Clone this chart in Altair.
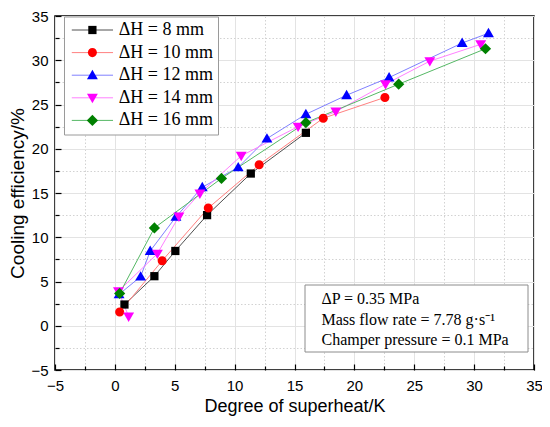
import altair as alt
import pandas as pd

series_names = ["ΔH = 8 mm", "ΔH = 10 mm", "ΔH = 12 mm", "ΔH = 14 mm", "ΔH = 16 mm"]

x_8mm = [0.8, 3.3, 5.05, 7.7, 11.35, 15.95]
y_8mm = [2.4, 5.6, 8.45, 12.5, 17.2, 21.8]
x_10mm = [0.4, 3.95, 7.8, 12.05, 17.4, 22.55]
y_10mm = [1.55, 7.35, 13.3, 18.2, 23.45, 25.8]
x_12mm = [0.35, 2.15, 2.95, 5.1, 7.3, 10.3, 12.7, 15.95, 19.35, 22.9, 29.0, 31.2]
y_12mm = [3.55, 5.55, 8.45, 12.3, 15.65, 17.9, 21.15, 23.9, 26.05, 28.05, 31.95, 33.05]
x_14mm = [1.15, 0.3, 3.55, 5.35, 7.1, 10.55, 15.3, 18.45, 22.6, 26.3, 30.55]
y_14mm = [1.05, 3.9, 8.15, 12.35, 14.95, 19.2, 22.5, 24.2, 27.3, 29.9, 31.8]
x_16mm = [0.4, 3.3, 8.9, 15.95, 23.7, 30.95]
y_16mm = [3.65, 11.05, 16.65, 22.95, 27.3, 31.3]

x_ticks = [-5, -2.5, 0, 2.5, 5, 7.5, 10, 12.5, 15, 17.5, 20, 22.5, 25, 27.5, 30, 32.5, 35]
y_ticks = [-5, -2.5, 0, 2.5, 5, 7.5, 10, 12.5, 15, 17.5, 20, 22.5, 25, 27.5, 30, 32.5, 35]

note_lines = ["ΔP = 0.35 MPa", "Mass flow rate = 7.78 g·s⁻¹", "Champer pressure = 0.1 MPa"]

# styles
marker_colors = ["#000000", "#FF0000", "#0000FF", "#FF00FF", "#008000"]
line_colors = ["#505050", "#FF8080", "#8080FF", "#FF80FF", "#55B865"]
marker_paths = [
    "M-0.5,-0.5H0.5V0.5H-0.5Z",
    "M0.55,0A0.55,0.55,0,1,1,-0.55,0A0.55,0.55,0,1,1,0.55,0Z",
    "M0,-0.66L0.66,0.48L-0.66,0.48Z",
    "M0,0.66L0.66,-0.48L-0.66,-0.48Z",
    "M0,-0.68L0.68,0L0,0.68L-0.68,0Z",
]

all_x = [x_8mm, x_10mm, x_12mm, x_14mm, x_16mm]
all_y = [y_8mm, y_10mm, y_12mm, y_14mm, y_16mm]
rows = []
for name, xs, ys in zip(series_names, all_x, all_y):
    for i, (xv, yv) in enumerate(zip(xs, ys)):
        rows.append({"series": name, "series_pt": name, "idx": i, "x": xv, "y": yv})
df = pd.DataFrame(rows)

W, H = 479, 354

minor = "datum.value % 5 !== 0"
x_scale = alt.Scale(domain=[-5, 35], nice=False, zero=False)
y_scale = alt.Scale(domain=[-5, 35], nice=False, zero=False)

common_axis = dict(
    ticks=False, domain=False, grid=True,
    gridColor={"condition": {"test": minor, "value": "#d2d2d2"}, "value": "#e3e3e3"},
    gridDash={"condition": {"test": minor, "value": [1.5, 2]}, "value": []},
    gridWidth=1,
    labelExpr="datum.value % 5 === 0 ? datum.label : ''",
    labelFont="Liberation Sans", labelFontSize=15, labelColor="#000000",
    labelOverlap=False, labelFlush=False,
    titleFont="Liberation Sans", titleFontWeight="normal", titleColor="#000000",
)
main_x_axis = alt.Axis(values=x_ticks, labelPadding=8, title="Degree of superheat/K",
                       titlePadding=4, titleFontSize=18, **common_axis)
main_y_axis = alt.Axis(values=y_ticks, labelPadding=7, title="Cooling efficiency/%",
                       titlePadding=3, titleFontSize=19, **common_axis)

tick_common = dict(
    labels=False, domain=False, grid=False, ticks=True, title=None,
    tickColor="#000000", tickWidth=1.2,
    tickSize={"condition": {"test": minor, "value": 4}, "value": 6},
)
tick_x_axis = alt.Axis(orient="top", offset=-H, values=x_ticks, **tick_common)
tick_y_axis = alt.Axis(orient="right", offset=-W, values=y_ticks, **tick_common)

legend_common = dict(
    title=None, orient="none", legendX=9, legendY=0.5,
    symbolSize=272, symbolStrokeWidth=1,
    labelFont="Liberation Serif", labelFontSize=18, labelColor="#000000", labelLimit=400,
    labelOffset=17.3, symbolOffset=14.9, rowPadding=4.6, padding=4.5,
)
line_legend = alt.Legend(symbolType="M-2.5,0H2.5", fillColor="white", strokeColor="#9a9a9a", **legend_common)
point_legend = alt.Legend(labelOpacity=0, symbolStrokeColor="transparent", **legend_common)

lines = alt.Chart(df).mark_line(strokeWidth=1).encode(
    x=alt.X("x:Q", scale=x_scale, axis=main_x_axis),
    y=alt.Y("y:Q", scale=y_scale, axis=main_y_axis),
    color=alt.Color("series:N", sort=series_names, scale=alt.Scale(range=line_colors), legend=line_legend),
    order="idx:Q",
)

points = alt.Chart(df).mark_point(filled=True, size=272, opacity=1, strokeWidth=0).encode(
    x=alt.X("x:Q", scale=x_scale, axis=tick_x_axis),
    y=alt.Y("y:Q", scale=y_scale, axis=tick_y_axis),
    fill=alt.Fill("series_pt:N", scale=alt.Scale(domain=series_names, range=marker_colors), legend=point_legend),
    shape=alt.Shape("series_pt:N", scale=alt.Scale(domain=series_names, range=marker_paths), legend=point_legend),
)

note_src = alt.Chart(pd.DataFrame({"k": [0]}))
note_box = note_src.mark_rect(
    fill="white", stroke="#8c8c8c", strokeWidth=1, x=250, x2=473, y=269, y2=336
).encode(opacity=alt.value(1))
note_text = note_src.mark_text(
    text=note_lines, align="left", baseline="middle", lineHeight=20.5,
    font="Liberation Serif", fontSize=16, color="#000000",
).encode(x=alt.value(266.5), y=alt.value(283.3))

chart = alt.layer(lines, points, note_box, note_text).resolve_axis(
    x="independent", y="independent"
).properties(
    width=W, height=H,
    autosize=alt.AutoSizeParams(type="none"),
    padding={"left": 47, "top": 8, "right": 8, "bottom": 49},
    background="white",
).configure_view(stroke="#000000", strokeWidth=1.5)

chart.save("out.html", embed_options={"renderer": "svg", "actions": False})
